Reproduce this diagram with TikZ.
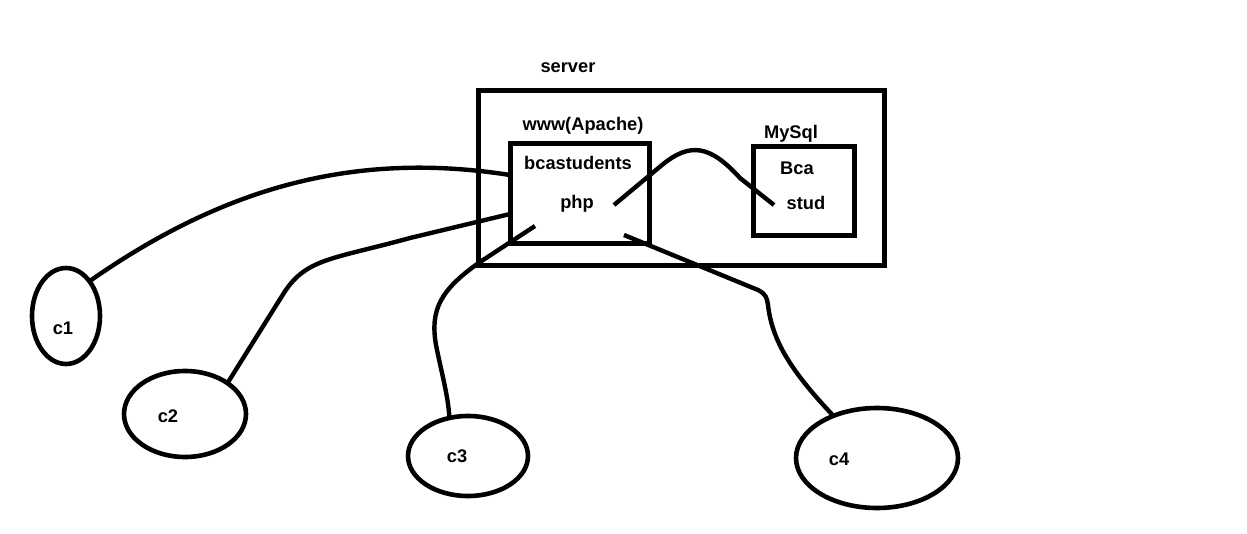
\documentclass[tikz,border=0pt]{standalone}
\usepackage{fontspec}
\setmainfont{Liberation Sans}
\usetikzlibrary{shapes.geometric}
\begin{document}
\begin{tikzpicture}[x=0.05cm,y=-0.05cm,
  box/.style={draw,line width=0.23cm,rectangle,inner sep=0pt,outer sep=0pt},
  client/.style={draw,line width=0.23cm,ellipse,inner sep=0pt,outer sep=0pt},
  txt/.style={font=\fontsize{26}{30}\selectfont\bfseries,inner sep=0pt,anchor=center},
  wire/.style={line width=0.22cm}]
\useasboundingbox (0,0) rectangle (1247,534);
% boxes
\node[box,minimum width=20.3cm,minimum height=8.75cm] (server) at (681.5,178) {};
\node[box,minimum width=6.95cm,minimum height=5.0cm] (apache) at (580,193.5) {};
\node[box,minimum width=5.05cm,minimum height=4.45cm] (mysql) at (804,191) {};
% labels
\node[txt] (tserver) at (568,68) {server};
\node[txt] (tapache) at (583,126) {www(Apache)};
\node[txt] (tmysql) at (791,134) {MySql};
\node[txt] (tbca) at (578,163) {bcastudents};
\node[txt] (tphp) at (577,204) {php};
\node[txt] (tBca) at (797,168) {Bca};
\node[txt] (tstud) at (806,203) {stud};
% clients
\node[client,minimum width=3.4cm,minimum height=4.8cm] (c1) at (66,316) {};
\node[client,minimum width=6.1cm,minimum height=4.3cm] (c2) at (185,414) {};
\node[client,minimum width=6.0cm,minimum height=4.0cm] (c3) at (468,456) {};
\node[client,minimum width=8.1cm,minimum height=5.0cm] (c4) at (877,458) {};
\node[txt] (tc1) at (63,328) {c1};
\node[txt] (tc2) at (168,416) {c2};
\node[txt] (tc3) at (457,456) {c3};
\node[txt] (tc4) at (839,459) {c4};
% free ends
\coordinate (e1) at (510,175);
\coordinate (e2) at (510,214);
\coordinate (e3) at (535,226);
\coordinate (e4) at (624,235);
\coordinate (pa) at (614,205);
\coordinate (sb) at (774,205);
% connectors
\draw[wire] (c1.56) .. controls (220,190) and (350,150) .. (e1);
\draw[wire] (c2.36) -- (282,296) .. controls (305,258) and (330,260) .. (410,238) -- (e2);
\draw[wire] (e3) -- (480,262) .. controls (440,290) and (430,310) .. (436,345) .. controls (442,375) and (448,395) .. (c3.116);
\draw[wire] (e4) -- (758,290) .. controls (766,294) and (767,298) .. (768,305) .. controls (772,340) and (790,370) .. (c4.136);
\draw[wire] (pa) -- (662,165) .. controls (690,142) and (710,145) .. (740,178) -- (sb);
\end{tikzpicture}
\end{document}
